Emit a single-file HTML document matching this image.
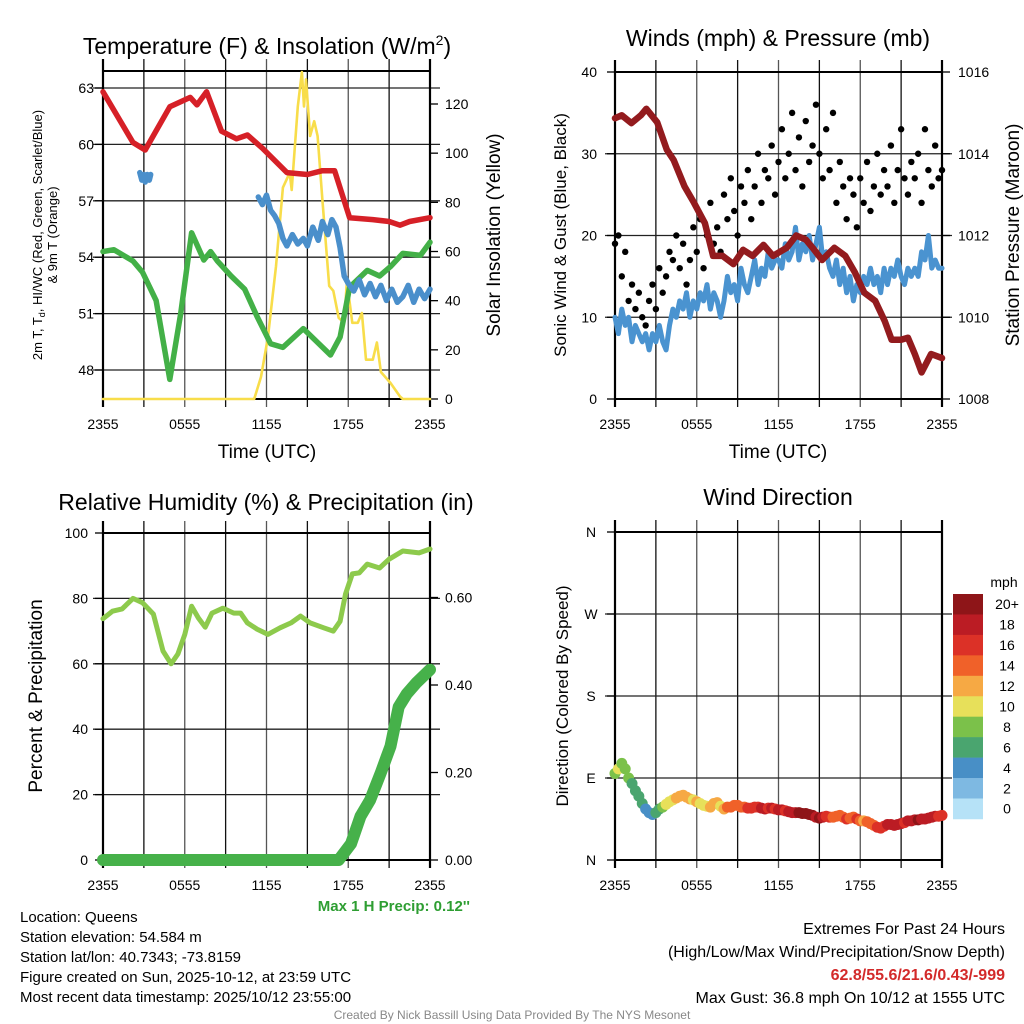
<!DOCTYPE html>
<html><head><meta charset="utf-8"><style>
html,body{margin:0;padding:0;background:#fff;}
svg{display:block;font-family:"Liberation Sans",Arial,sans-serif;}
</style></head><body>
<svg id="fig" width="1024" height="1024" viewBox="0 0 1024 1024" xmlns="http://www.w3.org/2000/svg">
<g font-size="23" text-anchor="middle" fill="#000">
<text x="267" y="54">Temperature (F) &amp; Insolation (W/m<tspan font-size="14" dy="-9">2</tspan><tspan dy="9">)</tspan></text>
<text x="778" y="46">Winds (mph) &amp; Pressure (mb)</text>
<text x="266" y="510">Relative Humidity (%) &amp; Precipitation (in)</text>
<text x="778" y="505">Wind Direction</text>
</g>
<g fill="#000">
<text x="267" y="458" font-size="19" text-anchor="middle">Time (UTC)</text>
<text x="778" y="458" font-size="19" text-anchor="middle">Time (UTC)</text>
<text transform="translate(42,235) rotate(-90)" font-size="13" text-anchor="middle">2m T, T<tspan font-size="9" dy="3">d</tspan><tspan dy="-3">, HI/WC (Red, Green, Scarlet/Blue)</tspan></text>
<text transform="translate(57,235) rotate(-90)" font-size="13" text-anchor="middle">&amp; 9m T (Orange)</text>
<text transform="translate(500,235) rotate(-90)" font-size="19" text-anchor="middle">Solar Insolation (Yellow)</text>
<text transform="translate(566,235) rotate(-90)" font-size="17" text-anchor="middle">Sonic Wind &amp; Gust (Blue, Black)</text>
<text transform="translate(1019,235) rotate(-90)" font-size="19" text-anchor="middle">Station Pressure (Maroon)</text>
<text transform="translate(42,696) rotate(-90)" font-size="19" text-anchor="middle">Percent &amp; Precipitation</text>
<text transform="translate(568,696) rotate(-90)" font-size="17" text-anchor="middle">Direction (Colored By Speed)</text>
</g>
<g font-size="15" fill="#000">
<text x="470" y="911" text-anchor="end" font-weight="bold" fill="#2e9e32">Max 1 H Precip: 0.12''</text>
<text x="20" y="922">Location: Queens</text>
<text x="20" y="942">Station elevation: 54.584 m</text>
<text x="20" y="962">Station lat/lon: 40.7343; -73.8159</text>
<text x="20" y="982">Figure created on Sun, 2025-10-12, at 23:59 UTC</text>
<text x="20" y="1002">Most recent data timestamp: 2025/10/12 23:55:00</text>
</g>
<g font-size="16" fill="#000" text-anchor="end">
<text x="1005" y="934">Extremes For Past 24 Hours</text>
<text x="1005" y="957">(High/Low/Max Wind/Precipitation/Snow Depth)</text>
<text x="1005" y="980" font-weight="bold" fill="#d32a2a">62.8/55.6/21.6/0.43/-999</text>
<text x="1005" y="1003">Max Gust: 36.8 mph On 10/12 at 1555 UTC</text>
</g>
<text x="512" y="1019" font-size="12" fill="#888" text-anchor="middle">Created By Nick Bassill Using Data Provided By The NYS Mesonet</text>
<g id="plots"></g>
</svg>
<script>
// ---- data (times are hours since 2355 UTC) ----
const timeTicks = ["2355","0555","1155","1755","2355"];
const tempTimes = [0,2.2,3.1,4.9,6.4,6.9,7.6,8.7,9.8,10.6,11.7,13.5,15,16.1,17,18.1,19.8,21,21.8,22.5,24];
const tempVals  = [62.8,60.1,59.7,62.0,62.5,62.1,62.8,60.7,60.3,60.5,59.8,58.5,58.4,58.6,58.6,56.1,56.0,55.9,55.7,55.9,56.1];
const hiwcTimesA = [2.7,2.85,3.0,3.1,3.25,3.4,3.5];
const hiwcValsA  = [58.5,58.1,58.4,58.0,58.4,58.1,58.4];
const hiwcTimesB = [11.4,11.7,12.0,12.3,12.6,12.9,13.2,13.5,13.9,14.3,14.7,15.0,15.4,15.8,16.1,16.5,16.8,17.1,17.4,17.7,18.0,18.4,18.8,19.2,19.6,20.0,20.4,20.8,21.2,21.6,22.0,22.4,22.8,23.2,23.6,24.0];
const hiwcValsB  = [57.2,56.8,57.3,56.5,56.2,55.8,55.0,54.6,55.2,54.7,55.0,54.6,55.6,54.9,55.9,55.2,56.0,55.6,54.5,53.0,52.6,52.2,52.8,52.0,52.6,51.9,52.5,51.7,52.3,51.6,51.9,52.5,51.6,52.3,51.8,52.3];
const tdTimes = [0,0.8,2.2,2.9,3.9,4.9,5.7,6.5,7.4,7.9,8.4,9.4,10.4,11.3,12.3,13.2,14.7,15.7,16.7,17.4,18.1,19.4,20.3,21.1,22,23.3,24];
const tdVals  = [54.3,54.4,53.8,53.2,51.7,47.5,51.0,55.3,53.85,54.3,53.8,53.0,52.3,50.85,49.4,49.2,50.2,49.5,48.8,49.75,52.4,53.3,53.0,53.5,54.2,54.1,54.8];
const solarTimes = [0,11.1,11.6,12.1,12.7,13.2,13.7,13.85,14.1,14.3,14.6,14.75,14.9,15.2,15.5,15.75,16.1,16.6,16.9,17.3,17.7,17.9,18.3,18.7,19.0,19.3,19.8,20.1,20.4,21.1,21.8,22,24];
const solarVals  = [0,0,9,25,54,86,92,85,104,119,133,119,130,107,113,107,81,46,44,33,31,48,31,31,35,16,16,23,11,6.5,1,0,0];
const windTimes = [];
for (let i=0;i<97;i++) windTimes.push(i*0.25);
const windVals = [10,8,11,9,10,7,9,8, 7,8,6,8,7,9,7,6, 9,11,10,12,11,13,10,12, 11,13,12,14,11,13,12,10, 12,15,13,14,12,16,14,13, 15,17,14,16,15,18,16,17, 17,16,19,17,18,21,17,19, 18,20,17,19,21,17,18,16, 15,17,14,16,13,15,12,14, 13,15,14,16,14,15,13,16, 14,16,15,17,15,14,16,15, 16,15,18,17,20,16,17,16, 16];
const gustVals = [19,20,15,18,12,14,11,13, 10,9,12,14,11,16,13,15, 18,17,20,16,19,14,17,21, 18,22,16,20,24,19,21,18, 25,22,27,23,20,26,24,28, 22,26,30,24,28,27,31,25, 29,33,27,30,35,28,32,26, 34,29,31,36,30,27,33,28, 35,24,29,26,22,27,25,21, 27,24,29,23,26,30,25,28, 26,31,24,28,33,27,25,29, 27,30,24,33,28,26,31,27, 28];
const presTimes = [0,0.5,1.2,1.9,2.3,3.1,3.8,4.3,5.1,5.8,6.6,7.2,7.9,8.7,9.4,10.1,10.9,11.6,12.6,13.3,14,14.5,15.2,16.1,16.9,17.6,18.3,19.1,19.8,20.3,21,21.5,22,22.5,23.2,24];
const presVals  = [1014.87,1014.94,1014.75,1014.94,1015.1,1014.77,1014.1,1013.85,1013.2,1012.8,1012.3,1011.5,1011.5,1011.3,1011.65,1011.5,1011.77,1011.5,1011.7,1012.0,1011.9,1011.7,1011.4,1011.7,1011.5,1011.1,1010.6,1010.4,1009.9,1009.45,1009.45,1009.5,1009.1,1008.65,1009.1,1009.0];
const rhTimes = [0,0.7,1.4,2.2,2.9,3.7,4.4,5.0,5.5,6.0,6.5,7.0,7.5,8.0,8.8,9.6,10.1,10.6,11.3,12.1,13,13.8,14.5,15.2,16.2,16.9,17.4,17.8,18.3,18.8,19.4,20.3,21,22,23.2,24];
const rhVals  = [73.8,76.1,76.8,80,78.7,75.2,63.9,60,63,69,77.6,74,71.2,75.5,77,75.5,75.5,72.5,70.6,69,71,72.5,74.6,72.5,71,70,73,81.3,87.5,87.8,90.5,89.3,92,94.5,93.9,95.1];
const precipTimes = [0,17.3,18.2,18.9,19.6,20.4,21.1,21.7,22.3,23,24];
const precipVals  = [0,0,0.037,0.1,0.137,0.2,0.26,0.35,0.38,0.405,0.435];
const dirTimes = [];
for (let i=0;i<97;i++) dirTimes.push(i*0.25);
const dirVals = [95,100,106,100,90,84,76,70, 62,56,52,50,52,56,58,61, 64,66,68,70,71,69,67,66, 64,62,60,59,58,62,63,59, 56,58,58,60,60,58,58,57, 57,58,58,57,56,57,57,56, 55,55,54,53,52,52,52,51, 51,50,49,47,46,47,48,47, 47,48,49,47,45,46,47,45, 43,43,42,40,38,36,35,37, 39,39,38,39,40,41,43,43, 44,44,45,45,46,47,48,48, 49];
const dirSpeeds = [9,10,9,8,8,7,7,6, 6,5,5,5,6,7,8,10, 10,11,12,12,12,13,12,11, 12,11,10,11,12,13,12,11, 13,14,14,14,15,15,15,16, 16,17,17,18,18,17,18,17, 19,18,17,18,19,19,20,20, 20,21,20,19,20,18,17,16, 15,15,14,15,16,15,14,16, 14,13,15,14,15,16,17,17, 18,19,18,19,18,17,18,19, 19,20,19,18,18,19,18,17, 17];
const speedLabels = ["0","2","4","6","8","10","12","14","16","18","20+"];
const speedColors = ["#b6e2f7","#7eb9e2","#488fc6","#4aa56f","#7bc14a","#e7e05a","#f6a944","#f06129","#dc3127","#bb1c24","#8e1518"];

// ---- drawing helpers ----
const NS="http://www.w3.org/2000/svg";
const root=document.getElementById('plots');
function el(tag,attrs,parent){const e=document.createElementNS(NS,tag);for(const k in attrs)e.setAttribute(k,attrs[k]);(parent||root).appendChild(e);return e;}
function lin(d0,d1,r0,r1){return v=>r0+(v-d0)*(r1-r0)/(d1-d0);}
function poly(xs,ys,sx,sy,stroke,w,parent,name){
  const pts=xs.map((t,i)=>sx(t).toFixed(1)+","+sy(ys[i]).toFixed(1)).join(" ");
  const p=el('polyline',{points:pts,fill:'none',stroke:stroke,'stroke-width':w,'stroke-linejoin':'round','stroke-linecap':'round'},parent);
  
  
  return p;
}
function frame(name,x0,x1,y0,y1,hLines,sy){
  const g=el('g',{});
  
  
  const sx=lin(0,24,x0,x1);
  for(let h=3;h<24;h+=3){
    const l=el('line',{x1:sx(h),x2:sx(h),y1:y0-12,y2:y1+8,stroke:(h%6===0)?'#555':'#111','stroke-width':1.3},g);
    
    
  }
  hLines.forEach(v=>{
    const l=el('line',{x1:x0-10,x2:x1+10,y1:sy(v),y2:sy(v),stroke:'#222','stroke-width':1.3},g);
    
    
  });
  el('rect',{x:x0,y:y0,width:x1-x0,height:y1-y0,fill:'none',stroke:'#000','stroke-width':2},g);
  el('line',{x1:x0,x2:x0,y1:y0-12,y2:y1+8,stroke:'#000','stroke-width':2.2},g);
  el('line',{x1:x1,x2:x1,y1:y0-12,y2:y1+8,stroke:'#000','stroke-width':2.2},g);
  timeTicks.forEach((lab,i)=>{
    const t=el('text',{x:sx(i*6),y:y1+30,'font-size':14,'text-anchor':'middle'},g);
    t.textContent=lab;
    
    
  });
  return {g,sx};
}
function yLabels(g,vals,labels,sy,x,anchor,name,tickX,tickDir){
  vals.forEach((v,i)=>{
    const t=el('text',{x:x,y:sy(v)+5,'font-size':14,'text-anchor':anchor},g);
    t.textContent=labels[i];
    
    
    el('line',{x1:tickX,x2:tickX+tickDir*8,y1:sy(v),y2:sy(v),stroke:'#000','stroke-width':1.3},g);
  });
}

// ---- panel 1: temperature ----
(function(){
  const x0=103,x1=430,y0=71,y1=399;
  const sy=lin(48,63,370,88), sr=lin(0,120,399,104);
  const tempTicks=[48,51,54,57,60,63];
  const {g,sx}=frame('temperature-panel',x0,x1,y0,y1,tempTicks,sy);
  yLabels(g,tempTicks,tempTicks.map(String),sy,94,'end','temperature-y-tick-label',x0,-1);
  const solTicks=[0,20,40,60,80,100,120];
  yLabels(g,solTicks,solTicks.map(String),sr,445,'start','insolation-y-tick-label',x1,1);
  poly(solarTimes,solarVals,sx,sr,'#f8dd4a',2.6,g,'insolation-line');
  poly(tdTimes,tdVals,sx,sy,'#43b047',5.5,g,'dewpoint-line');
  poly(tempTimes,tempVals,sx,sy,'#d62027',5.5,g,'temperature-line');
  poly(hiwcTimesA,hiwcValsA,sx,sy,'#4a8fcb',5.5,g,'windchill-line-early');
  poly(hiwcTimesB,hiwcValsB,sx,sy,'#4a8fcb',5.5,g,'windchill-line-late');
})();

// ---- panel 2: winds ----
(function(){
  const x0=615,x1=942,y0=72,y1=399;
  const sy=lin(0,40,399,72), sp=lin(1008,1016,399,72);
  const wTicks=[0,10,20,30,40];
  const {g,sx}=frame('winds-panel',x0,x1,y0,y1,[10,20,30],sy);
  yLabels(g,wTicks,wTicks.map(String),sy,597,'end','wind-y-tick-label',x0,-1);
  const pTicks=[1008,1010,1012,1014,1016];
  yLabels(g,pTicks,pTicks.map(String),sp,958,'start','pressure-y-tick-label',x1,1);
  poly(windTimes,windVals,sx,sy,'#4a93d0',5,g,'sustained-wind-line');
  gustVals.forEach((v,i)=>{
    const c=el('circle',{cx:sx(windTimes[i]),cy:sy(v),r:3.2,fill:'#000'},g);
    
    
  });
  poly(presTimes,presVals,sx,sp,'#931b1e',6.5,g,'pressure-line');
})();

// ---- panel 3: humidity & precipitation ----
(function(){
  const x0=103,x1=430,y0=533,y1=860;
  const sy=lin(0,100,860,533), sp=lin(0,0.6,860,597.5);
  const {g,sx}=frame('humidity-panel',x0,x1,y0,y1,[20,40,60,80],sy);
  const rTicks=[0,20,40,60,80,100];
  yLabels(g,rTicks,rTicks.map(String),sy,88,'end','humidity-y-tick-label',x0,-1);
  const pTicks=[0,0.2,0.4,0.6];
  yLabels(g,pTicks,pTicks.map(v=>v.toFixed(2)),sp,445,'start','precip-y-tick-label',x1,1);
  poly(rhTimes,rhVals,sx,sy,'#8dca4c',5,g,'humidity-line');
  poly(precipTimes,precipVals,sx,sp,'#46b14a',12,g,'precipitation-line');
})();

// ---- panel 4: wind direction ----
(function(){
  const x0=615,x1=942,y0=532,y1=860;
  const sy=lin(0,360,860,532);
  const {g,sx}=frame('wind-direction-panel',x0,x1,y0,y1,[90,180,270],sy);
  yLabels(g,[0,90,180,270,360],["N","E","S","W","N"],sy,591,'middle','direction-y-tick-label',x0,-1);
  dirVals.forEach((v,i)=>{
    const bin=Math.min(10,Math.floor(dirSpeeds[i]/2));
    const c=el('circle',{cx:sx(dirTimes[i]),cy:sy(v),r:5.5,fill:speedColors[bin]},g);
    
    
  });
  const lg=el('g',{});
  
  
  const bh=20.45, top=594;
  const u=el('text',{x:1004,y:587,'font-size':14,'text-anchor':'middle'},lg);
  u.textContent='mph';
  
  
  speedLabels.forEach((lab,i)=>{
    const k=10-i;
    const r=el('rect',{x:953,y:top+i*bh,width:30,height:bh+0.3,fill:speedColors[k]},lg);
    
    
    const t=el('text',{x:1007,y:top+i*bh+bh/2+5,'font-size':14,'text-anchor':'middle'},lg);
    t.textContent=speedLabels[k];
    
    
  });
})();
</script>
</body></html>
